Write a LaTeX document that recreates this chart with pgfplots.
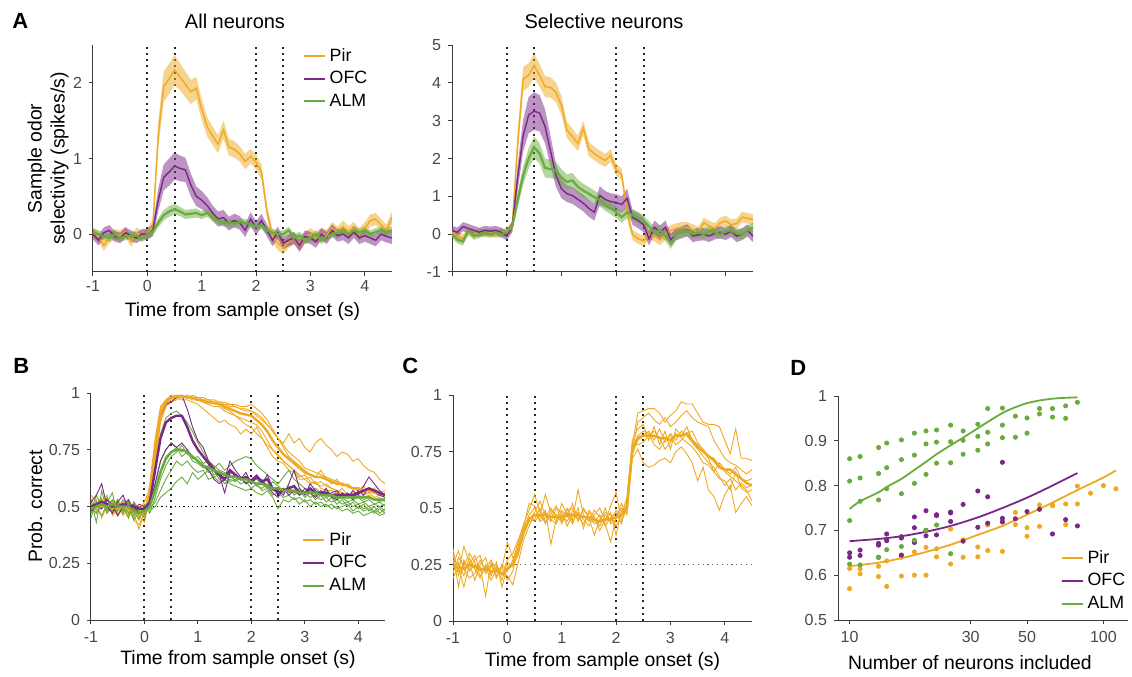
\documentclass[border=0pt]{standalone}
\usepackage{pgfplots}
\pgfplotsset{compat=1.18}
\usepackage{pgfplotstable}
\usepackage{fontspec}
\setmainfont{Liberation Sans}

\definecolor{pir}{HTML}{EEA922}
\definecolor{ofc}{HTML}{7A2888}
\definecolor{alm}{HTML}{6AAB3F}
\definecolor{axgray}{HTML}{3C3C3C}
\definecolor{tickgray}{HTML}{484848}

% A, all neurons: t, mean and sem for Pir (P), OFC (O), ALM (A)
\pgfplotstableread{
t P Pe O Oe A Ae
-1.0 0.02 0.07 0.00 0.07 0.02 0.05
-0.9 -0.03 0.07 -0.08 0.07 0.00 0.05
-0.8 -0.15 0.07 0.02 0.07 -0.03 0.05
-0.7 -0.05 0.07 0.05 0.07 -0.05 0.05
-0.6 0.00 0.07 -0.03 0.07 0.00 0.05
-0.5 -0.02 0.07 -0.05 0.07 -0.05 0.05
-0.4 0.03 0.07 0.02 0.07 -0.03 0.05
-0.3 -0.10 0.07 -0.02 0.07 -0.02 0.05
-0.2 0.02 0.07 -0.05 0.07 -0.02 0.05
-0.1 -0.03 0.07 0.00 0.07 -0.05 0.05
0.0 0.00 0.07 0.00 0.07 0.00 0.05
0.1 0.10 0.10 0.05 0.08 0.03 0.05
0.2 1.30 0.18 0.45 0.15 0.15 0.06
0.3 1.95 0.20 0.75 0.17 0.25 0.07
0.4 2.05 0.20 0.82 0.18 0.30 0.07
0.5 2.17 0.20 0.90 0.18 0.33 0.07
0.6 2.08 0.18 0.87 0.17 0.30 0.06
0.7 1.98 0.17 0.85 0.16 0.26 0.06
0.8 1.88 0.16 0.65 0.15 0.27 0.06
0.9 1.93 0.15 0.50 0.13 0.28 0.06
1.0 1.65 0.14 0.45 0.12 0.25 0.05
1.1 1.42 0.13 0.38 0.11 0.28 0.05
1.2 1.30 0.12 0.28 0.10 0.22 0.05
1.3 1.19 0.12 0.20 0.10 0.18 0.05
1.4 1.38 0.12 0.22 0.10 0.15 0.05
1.5 1.15 0.11 0.14 0.09 0.15 0.05
1.6 1.12 0.11 0.18 0.09 0.14 0.05
1.7 1.06 0.10 0.15 0.09 0.16 0.05
1.8 0.96 0.10 0.05 0.09 0.15 0.05
1.9 1.03 0.10 0.20 0.09 0.13 0.05
2.0 0.95 0.10 0.08 0.09 0.10 0.05
2.1 0.82 0.10 0.18 0.09 0.12 0.05
2.2 0.30 0.09 0.05 0.08 0.05 0.05
2.3 -0.02 0.09 -0.08 0.08 0.02 0.05
2.4 -0.12 0.09 0.02 0.08 0.00 0.05
2.5 -0.18 0.09 -0.12 0.08 0.00 0.05
2.6 -0.10 0.08 -0.08 0.08 0.05 0.05
2.7 -0.05 0.08 -0.05 0.08 -0.05 0.05
2.8 -0.15 0.08 -0.15 0.08 -0.02 0.05
2.9 -0.05 0.08 -0.03 0.08 -0.08 0.05
3.0 0.00 0.08 -0.05 0.08 -0.05 0.05
3.1 -0.05 0.08 -0.10 0.08 0.00 0.05
3.2 0.00 0.08 0.00 0.08 -0.08 0.05
3.3 -0.02 0.08 -0.05 0.08 -0.03 0.05
3.4 0.08 0.08 0.05 0.08 0.00 0.05
3.5 0.02 0.08 -0.02 0.08 0.02 0.05
3.6 0.10 0.08 0.00 0.08 0.05 0.05
3.7 0.03 0.08 -0.05 0.08 0.00 0.05
3.8 0.08 0.08 0.03 0.08 0.05 0.05
3.9 0.00 0.08 -0.05 0.08 0.02 0.05
4.0 0.08 0.08 -0.02 0.08 0.05 0.05
4.1 0.18 0.08 -0.05 0.08 0.00 0.05
4.2 0.20 0.08 -0.08 0.08 0.03 0.05
4.3 0.12 0.08 0.00 0.08 0.05 0.05
4.4 0.05 0.08 -0.03 0.08 0.03 0.05
4.5 0.22 0.08 -0.05 0.08 0.05 0.05
}\Aall

% A, selective neurons
\pgfplotstableread{
t P Pe O Oe A Ae
-1.0 0.05 0.10 0.10 0.12 0.00 0.10
-0.9 -0.05 0.10 0.05 0.12 -0.15 0.10
-0.8 -0.10 0.10 0.20 0.12 -0.20 0.10
-0.7 0.05 0.10 0.15 0.12 0.10 0.10
-0.6 0.00 0.10 0.10 0.12 -0.05 0.10
-0.5 0.05 0.10 0.05 0.12 0.00 0.10
-0.4 0.02 0.10 0.10 0.12 0.05 0.10
-0.3 0.05 0.10 0.08 0.12 0.00 0.10
-0.2 0.00 0.10 0.10 0.12 0.05 0.10
-0.1 0.05 0.10 0.05 0.12 0.00 0.10
0.0 0.05 0.10 -0.05 0.12 0.05 0.10
0.1 0.20 0.15 0.20 0.15 0.20 0.12
0.2 2.40 0.30 1.50 0.35 0.90 0.20
0.3 4.10 0.32 2.60 0.42 1.55 0.25
0.4 4.20 0.32 3.15 0.48 2.00 0.27
0.5 4.45 0.32 3.25 0.50 2.30 0.28
0.6 4.20 0.30 3.20 0.48 2.13 0.27
0.7 3.90 0.28 2.85 0.45 1.75 0.25
0.8 3.88 0.27 2.20 0.40 1.72 0.24
0.9 3.75 0.26 1.55 0.30 1.68 0.23
1.0 3.40 0.25 1.20 0.25 1.50 0.22
1.1 2.75 0.22 1.07 0.22 1.38 0.20
1.2 2.58 0.21 1.02 0.22 1.42 0.20
1.3 2.40 0.20 0.92 0.22 1.25 0.19
1.4 2.80 0.20 0.82 0.22 1.15 0.18
1.5 2.25 0.19 0.68 0.22 1.07 0.18
1.6 2.13 0.18 0.58 0.22 0.98 0.17
1.7 2.03 0.18 1.02 0.25 0.90 0.17
1.8 1.95 0.17 0.92 0.22 0.78 0.16
1.9 2.08 0.17 0.86 0.22 0.68 0.16
2.0 1.70 0.16 0.84 0.22 0.58 0.15
2.1 1.58 0.15 0.78 0.22 0.45 0.15
2.2 0.55 0.15 0.95 0.25 0.58 0.15
2.3 -0.02 0.14 0.44 0.20 0.50 0.15
2.4 -0.12 0.14 0.36 0.20 0.44 0.15
2.5 -0.18 0.14 0.25 0.20 0.36 0.14
2.6 0.00 0.14 -0.12 0.18 0.20 0.14
2.7 -0.05 0.14 0.18 0.18 0.05 0.14
2.8 -0.15 0.14 0.05 0.18 0.10 0.14
2.9 0.00 0.14 0.18 0.18 -0.05 0.14
3.0 0.10 0.14 -0.15 0.16 -0.25 0.14
3.1 0.15 0.14 0.00 0.16 0.00 0.13
3.2 0.18 0.14 0.05 0.16 0.05 0.13
3.3 0.18 0.14 0.10 0.16 0.08 0.13
3.4 0.12 0.14 -0.05 0.16 0.00 0.13
3.5 0.05 0.14 -0.02 0.16 0.05 0.13
3.6 0.30 0.14 0.00 0.16 0.00 0.13
3.7 0.22 0.14 -0.05 0.16 0.08 0.13
3.8 0.15 0.14 0.02 0.16 0.05 0.13
3.9 0.30 0.14 0.05 0.16 0.00 0.13
4.0 0.35 0.14 0.00 0.16 0.08 0.13
4.1 0.25 0.14 0.08 0.16 0.10 0.13
4.2 0.28 0.14 -0.05 0.16 0.02 0.13
4.3 0.45 0.14 0.00 0.16 0.00 0.13
4.4 0.42 0.14 0.10 0.16 0.10 0.13
4.5 0.38 0.14 -0.05 0.16 0.18 0.13
}\Asel

% B, Pir: single runs a-f and mean m
\pgfplotstableread{
t a b c d e f m
-1.0 0.55 0.49 0.52 0.47 0.53 0.50 0.51
-0.9 0.52 0.51 0.48 0.53 0.50 0.47 0.50
-0.8 0.49 0.54 0.50 0.45 0.52 0.51 0.50
-0.7 0.51 0.47 0.53 0.50 0.48 0.55 0.51
-0.6 0.47 0.52 0.49 0.53 0.51 0.46 0.50
-0.5 0.50 0.48 0.46 0.51 0.53 0.49 0.49
-0.4 0.46 0.51 0.52 0.47 0.49 0.52 0.50
-0.3 0.49 0.45 0.50 0.52 0.46 0.48 0.49
-0.2 0.44 0.50 0.47 0.49 0.52 0.45 0.48
-0.1 0.42 0.46 0.40 0.48 0.47 0.50 0.46
0.0 0.47 0.43 0.48 0.52 0.45 0.49 0.48
0.1 0.60 0.55 0.52 0.58 0.54 0.51 0.55
0.2 0.80 0.74 0.70 0.78 0.72 0.68 0.74
0.3 0.94 0.90 0.88 0.93 0.91 0.87 0.91
0.4 0.97 0.96 0.95 0.97 0.96 0.94 0.96
0.5 0.98 0.98 0.97 0.99 0.98 0.96 0.98
0.6 0.99 0.99 0.98 0.99 0.98 0.97 0.985
0.7 0.99 0.98 0.99 0.99 0.97 0.98 0.985
0.8 0.98 0.99 0.98 0.98 0.97 0.98 0.98
0.9 0.98 0.98 0.97 0.99 0.96 0.98 0.98
1.0 0.97 0.98 0.97 0.98 0.95 0.97 0.97
1.1 0.96 0.98 0.96 0.97 0.93 0.97 0.965
1.2 0.95 0.97 0.95 0.97 0.91 0.96 0.96
1.3 0.96 0.97 0.94 0.96 0.89 0.96 0.955
1.4 0.95 0.96 0.94 0.96 0.87 0.95 0.95
1.5 0.93 0.96 0.92 0.95 0.88 0.95 0.94
1.6 0.92 0.95 0.91 0.95 0.86 0.94 0.93
1.7 0.90 0.95 0.90 0.94 0.85 0.94 0.92
1.8 0.88 0.94 0.89 0.93 0.82 0.93 0.91
1.9 0.86 0.94 0.88 0.93 0.84 0.92 0.905
2.0 0.85 0.95 0.87 0.92 0.82 0.92 0.90
2.1 0.82 0.93 0.86 0.90 0.85 0.91 0.88
2.2 0.80 0.91 0.83 0.88 0.80 0.89 0.86
2.3 0.76 0.88 0.79 0.86 0.77 0.86 0.83
2.4 0.72 0.84 0.75 0.83 0.75 0.83 0.79
2.5 0.70 0.80 0.72 0.80 0.73 0.80 0.76
2.6 0.69 0.76 0.70 0.78 0.70 0.77 0.73
2.7 0.66 0.72 0.68 0.82 0.68 0.74 0.71
2.8 0.65 0.70 0.66 0.78 0.66 0.72 0.69
2.9 0.62 0.68 0.64 0.80 0.63 0.70 0.67
3.0 0.62 0.66 0.62 0.76 0.64 0.67 0.65
3.1 0.60 0.64 0.63 0.74 0.61 0.66 0.64
3.2 0.61 0.63 0.60 0.78 0.60 0.65 0.63
3.3 0.58 0.66 0.61 0.80 0.59 0.64 0.63
3.4 0.57 0.62 0.59 0.77 0.60 0.63 0.62
3.5 0.57 0.60 0.58 0.75 0.58 0.62 0.61
3.6 0.56 0.62 0.57 0.72 0.57 0.61 0.60
3.7 0.58 0.59 0.56 0.74 0.56 0.60 0.60
3.8 0.55 0.60 0.55 0.73 0.55 0.59 0.59
3.9 0.56 0.58 0.56 0.70 0.54 0.58 0.58
4.0 0.54 0.57 0.55 0.71 0.55 0.57 0.58
4.1 0.55 0.59 0.54 0.68 0.53 0.56 0.57
4.2 0.56 0.56 0.55 0.66 0.54 0.57 0.57
4.3 0.54 0.58 0.53 0.65 0.53 0.56 0.56
4.4 0.55 0.56 0.54 0.62 0.52 0.55 0.56
4.5 0.54 0.57 0.52 0.60 0.53 0.56 0.55
}\pirB

% B, OFC
\pgfplotstableread{
t a b m
-1.0 0.52 0.48 0.50
-0.9 0.55 0.50 0.51
-0.8 0.60 0.49 0.52
-0.7 0.50 0.53 0.51
-0.6 0.47 0.51 0.50
-0.5 0.52 0.46 0.50
-0.4 0.55 0.50 0.51
-0.3 0.49 0.53 0.50
-0.2 0.51 0.48 0.50
-0.1 0.47 0.51 0.49
0.0 0.48 0.50 0.49
0.1 0.55 0.52 0.52
0.2 0.75 0.60 0.66
0.3 0.90 0.70 0.80
0.4 0.95 0.75 0.87
0.5 0.96 0.78 0.89
0.6 0.98 0.76 0.90
0.7 0.99 0.78 0.90
0.8 0.93 0.75 0.85
0.9 0.85 0.72 0.79
1.0 0.79 0.70 0.75
1.1 0.76 0.68 0.72
1.2 0.70 0.66 0.69
1.3 0.67 0.62 0.66
1.4 0.64 0.60 0.64
1.5 0.56 0.62 0.62
1.6 0.65 0.70 0.66
1.7 0.64 0.66 0.64
1.8 0.62 0.63 0.62
1.9 0.65 0.60 0.63
2.0 0.60 0.62 0.61
2.1 0.63 0.64 0.63
2.2 0.60 0.61 0.61
2.3 0.64 0.59 0.62
2.4 0.58 0.56 0.58
2.5 0.57 0.54 0.56
2.6 0.55 0.58 0.57
2.7 0.60 0.55 0.58
2.8 0.66 0.57 0.59
2.9 0.58 0.55 0.56
3.0 0.55 0.58 0.56
3.1 0.60 0.56 0.58
3.2 0.57 0.54 0.56
3.3 0.55 0.57 0.56
3.4 0.58 0.55 0.56
3.5 0.54 0.56 0.55
3.6 0.53 0.57 0.55
3.7 0.56 0.54 0.55
3.8 0.54 0.56 0.55
3.9 0.57 0.53 0.55
4.0 0.55 0.57 0.56
4.1 0.59 0.55 0.57
4.2 0.63 0.58 0.58
4.3 0.60 0.56 0.57
4.4 0.57 0.55 0.56
4.5 0.55 0.54 0.55
}\ofcB

% B, ALM
\pgfplotstableread{
t a b c d e f m
-1.0 0.50 0.45 0.53 0.48 0.51 0.47 0.49
-0.9 0.47 0.52 0.43 0.55 0.49 0.51 0.50
-0.8 0.52 0.49 0.57 0.50 0.46 0.53 0.51
-0.7 0.49 0.54 0.48 0.52 0.51 0.47 0.50
-0.6 0.53 0.47 0.51 0.56 0.48 0.50 0.51
-0.5 0.48 0.51 0.49 0.46 0.53 0.52 0.50
-0.4 0.51 0.48 0.53 0.50 0.47 0.49 0.50
-0.3 0.47 0.52 0.50 0.45 0.51 0.53 0.50
-0.2 0.50 0.46 0.48 0.52 0.44 0.49 0.48
-0.1 0.46 0.50 0.44 0.49 0.48 0.45 0.47
0.0 0.49 0.47 0.50 0.45 0.48 0.51 0.48
0.1 0.53 0.50 0.47 0.52 0.49 0.48 0.50
0.2 0.68 0.58 0.54 0.60 0.52 0.50 0.57
0.3 0.82 0.66 0.62 0.70 0.57 0.54 0.65
0.4 0.89 0.72 0.68 0.75 0.62 0.56 0.71
0.5 0.91 0.74 0.72 0.78 0.66 0.58 0.74
0.6 0.92 0.76 0.74 0.76 0.70 0.61 0.75
0.7 0.90 0.72 0.77 0.74 0.68 0.63 0.75
0.8 0.87 0.74 0.73 0.75 0.70 0.60 0.74
0.9 0.83 0.70 0.72 0.71 0.67 0.65 0.72
1.0 0.78 0.69 0.70 0.72 0.65 0.62 0.70
1.1 0.74 0.67 0.68 0.69 0.66 0.64 0.68
1.2 0.70 0.68 0.65 0.70 0.62 0.66 0.67
1.3 0.68 0.64 0.66 0.67 0.63 0.63 0.66
1.4 0.66 0.65 0.62 0.69 0.61 0.64 0.65
1.5 0.65 0.62 0.64 0.66 0.62 0.60 0.64
1.6 0.63 0.64 0.61 0.68 0.60 0.62 0.63
1.7 0.64 0.61 0.62 0.70 0.59 0.61 0.63
1.8 0.62 0.63 0.60 0.71 0.58 0.63 0.62
1.9 0.63 0.60 0.61 0.72 0.57 0.60 0.62
2.0 0.61 0.62 0.58 0.71 0.58 0.61 0.61
2.1 0.60 0.59 0.60 0.68 0.56 0.62 0.60
2.2 0.62 0.58 0.57 0.66 0.55 0.60 0.60
2.3 0.59 0.60 0.58 0.64 0.57 0.58 0.59
2.4 0.58 0.57 0.55 0.62 0.54 0.61 0.58
2.5 0.57 0.58 0.56 0.60 0.49 0.59 0.58
2.6 0.58 0.56 0.54 0.63 0.53 0.57 0.57
2.7 0.56 0.59 0.55 0.66 0.52 0.58 0.57
2.8 0.57 0.55 0.53 0.62 0.54 0.56 0.57
2.9 0.55 0.57 0.54 0.60 0.51 0.58 0.56
3.0 0.56 0.54 0.52 0.58 0.53 0.56 0.56
3.1 0.54 0.56 0.53 0.57 0.50 0.57 0.56
3.2 0.55 0.53 0.51 0.58 0.52 0.55 0.56
3.3 0.53 0.55 0.52 0.56 0.50 0.56 0.55
3.4 0.54 0.52 0.50 0.57 0.51 0.54 0.55
3.5 0.52 0.54 0.51 0.55 0.49 0.55 0.55
3.6 0.53 0.51 0.49 0.56 0.50 0.53 0.54
3.7 0.51 0.53 0.50 0.54 0.48 0.54 0.54
3.8 0.52 0.50 0.51 0.55 0.49 0.52 0.54
3.9 0.50 0.52 0.48 0.53 0.47 0.53 0.54
4.0 0.51 0.49 0.50 0.54 0.48 0.51 0.54
4.1 0.49 0.51 0.48 0.52 0.46 0.52 0.54
4.2 0.50 0.48 0.49 0.53 0.47 0.50 0.54
4.3 0.48 0.50 0.47 0.51 0.48 0.51 0.53
4.4 0.50 0.47 0.49 0.52 0.46 0.50 0.53
4.5 0.48 0.49 0.47 0.50 0.47 0.51 0.53
}\almB

% C, Pir four-odor decoding
\pgfplotstableread{
t a b c d e f g m
-1.0 0.22 0.30 0.19 0.25 0.27 0.21 0.32 0.24
-0.9 0.26 0.15 0.24 0.31 0.22 0.28 0.20 0.24
-0.8 0.20 0.27 0.15 0.23 0.33 0.24 0.26 0.23
-0.7 0.28 0.22 0.25 0.19 0.26 0.30 0.23 0.25
-0.6 0.23 0.25 0.29 0.21 0.18 0.26 0.27 0.24
-0.5 0.19 0.24 0.22 0.27 0.25 0.20 0.29 0.23
-0.4 0.25 0.11 0.24 0.22 0.28 0.23 0.21 0.23
-0.3 0.21 0.26 0.18 0.25 0.20 0.27 0.24 0.22
-0.2 0.24 0.20 0.23 0.19 0.26 0.22 0.25 0.22
-0.1 0.18 0.23 0.21 0.25 0.15 0.24 0.20 0.21
0.0 0.26 0.35 0.20 0.22 0.24 0.18 0.27 0.23
0.1 0.24 0.28 0.16 0.27 0.25 0.22 0.30 0.25
0.2 0.33 0.30 0.26 0.35 0.29 0.32 0.36 0.32
0.3 0.41 0.38 0.36 0.43 0.40 0.39 0.42 0.40
0.4 0.47 0.44 0.42 0.49 0.45 0.46 0.52 0.45
0.5 0.50 0.45 0.47 0.56 0.48 0.44 0.51 0.47
0.6 0.46 0.50 0.45 0.48 0.53 0.47 0.44 0.47
0.7 0.49 0.44 0.48 0.43 0.47 0.56 0.46 0.47
0.8 0.34 0.47 0.45 0.49 0.44 0.48 0.50 0.46
0.9 0.45 0.51 0.43 0.47 0.50 0.44 0.46 0.46
1.0 0.47 0.43 0.49 0.45 0.48 0.52 0.44 0.46
1.1 0.44 0.48 0.46 0.50 0.42 0.47 0.49 0.47
1.2 0.49 0.45 0.52 0.44 0.47 0.43 0.50 0.47
1.3 0.46 0.58 0.44 0.48 0.45 0.50 0.47 0.47
1.4 0.43 0.47 0.50 0.45 0.49 0.41 0.46 0.46
1.5 0.48 0.44 0.46 0.42 0.46 0.49 0.45 0.46
1.6 0.45 0.49 0.38 0.47 0.43 0.46 0.44 0.45
1.7 0.42 0.46 0.45 0.50 0.44 0.40 0.47 0.44
1.8 0.47 0.43 0.48 0.44 0.50 0.45 0.42 0.45
1.9 0.44 0.35 0.47 0.51 0.43 0.48 0.46 0.45
2.0 0.49 0.46 0.42 0.57 0.45 0.38 0.48 0.46
2.1 0.46 0.50 0.47 0.44 0.52 0.49 0.43 0.47
2.2 0.52 0.48 0.55 0.50 0.47 0.51 0.53 0.50
2.3 0.78 0.74 0.80 0.72 0.76 0.79 0.75 0.76
2.4 0.92 0.80 0.85 0.76 0.82 0.78 0.88 0.81
2.5 0.93 0.82 0.87 0.70 0.84 0.79 0.90 0.82
2.6 0.94 0.84 0.80 0.68 0.83 0.82 0.92 0.82
2.7 0.94 0.80 0.86 0.69 0.78 0.84 0.89 0.82
2.8 0.92 0.85 0.78 0.71 0.76 0.81 0.87 0.81
2.9 0.88 0.79 0.84 0.72 0.80 0.76 0.90 0.81
3.0 0.91 0.83 0.76 0.70 0.82 0.79 0.86 0.80
3.1 0.93 0.80 0.85 0.75 0.78 0.83 0.88 0.82
3.2 0.97 0.84 0.82 0.77 0.80 0.81 0.91 0.82
3.3 0.96 0.82 0.86 0.74 0.83 0.79 0.93 0.83
3.4 0.96 0.79 0.80 0.70 0.84 0.77 0.90 0.80
3.5 0.92 0.76 0.78 0.62 0.79 0.74 0.88 0.77
3.6 0.88 0.73 0.75 0.68 0.76 0.70 0.87 0.75
3.7 0.87 0.70 0.72 0.58 0.73 0.69 0.86 0.73
3.8 0.87 0.68 0.66 0.55 0.72 0.66 0.80 0.71
3.9 0.86 0.64 0.70 0.49 0.69 0.63 0.76 0.68
4.0 0.80 0.60 0.67 0.56 0.66 0.62 0.72 0.67
4.1 0.74 0.63 0.65 0.60 0.64 0.58 0.70 0.67
4.2 0.85 0.58 0.68 0.48 0.62 0.66 0.69 0.65
4.3 0.72 0.61 0.63 0.52 0.60 0.59 0.67 0.63
4.4 0.72 0.59 0.62 0.55 0.58 0.57 0.65 0.61
4.5 0.71 0.60 0.63 0.51 0.53 0.58 0.67 0.60
}\pirC

% D, decoding accuracy against population size
\pgfplotstableread{
n v
10 0.860
10 0.810
10 0.722
10 0.625
11 0.865
11 0.817
11 0.765
11 0.623
13 0.885
13 0.827
13 0.768
13 0.640
14 0.895
14 0.840
14 0.793
14 0.657
16 0.902
16 0.858
16 0.782
16 0.664
18 0.917
18 0.868
18 0.805
18 0.678
20 0.922
20 0.893
20 0.825
20 0.700
22 0.924
22 0.897
22 0.850
22 0.712
25 0.935
25 0.898
25 0.851
25 0.648
28 0.922
28 0.901
28 0.870
32 0.937
32 0.910
32 0.879
35 0.972
35 0.919
35 0.893
40 0.973
40 0.935
40 0.907
45 0.955
45 0.908
50 0.951
50 0.917
56 0.972
56 0.960
63 0.972
63 0.953
71 0.978
71 0.950
79 0.986
}\almD

\pgfplotstableread{
n v
10 0.650
10 0.640
11 0.656
11 0.644
13 0.671
13 0.667
13 0.640
14 0.692
14 0.680
14 0.677
16 0.686
16 0.683
16 0.645
18 0.730
18 0.706
18 0.673
20 0.744
20 0.700
20 0.688
22 0.735
22 0.733
22 0.690
25 0.741
25 0.739
25 0.720
28 0.758
28 0.676
32 0.788
32 0.707
35 0.775
35 0.716
40 0.852
40 0.727
40 0.719
45 0.726
50 0.742
56 0.747
63 0.692
71 0.724
79 0.710
}\ofcD

\pgfplotstableread{
n v
10 0.615
10 0.570
11 0.614
11 0.603
13 0.620
13 0.597
14 0.632
14 0.575
16 0.640
16 0.598
18 0.652
18 0.600
20 0.662
20 0.600
22 0.659
22 0.641
25 0.703
25 0.625
28 0.679
28 0.640
32 0.663
32 0.641
35 0.712
35 0.655
40 0.719
40 0.653
45 0.740
45 0.713
50 0.706
50 0.687
56 0.757
56 0.709
63 0.757
63 0.755
71 0.759
71 0.713
79 0.799
79 0.759
89 0.783
100 0.800
112 0.793
}\pirD

\pgfplotsset{
  panel/.style={
    scale only axis, anchor=south west,
    axis x line*=bottom, axis y line*=left,
    axis line style={-, line width=0.5pt, color=axgray},
    tick align=outside, major tick length=2pt,
    tick style={line width=0.5pt, color=axgray},
    tick label style={font=\fontsize{8}{9}\selectfont, color=tickgray},
    label style={font=\fontsize{9.7}{11.5}\selectfont},
    /pgf/number format/assume math mode=true,
    legend style={draw=none, fill=none, inner sep=0pt, row sep=-0.45pt,
      font=\fontsize{8.9}{10}\selectfont, anchor=north west},
    legend cell align=left,
    legend image code/.code={\draw[##1] (0pt,0pt) -- (10.5pt,0pt);},
  },
  vd/.style={black!85, line width=1pt, dash pattern=on 1pt off 2.1pt},
}

% dotted event markers at sample on/off and test on/off
\newcommand{\vdot}[2]{%
  \pgfplotsinvokeforeach{0,0.5,2,2.5}{\addplot[vd, forget plot] coordinates {(##1,#1) (##1,#2)};}}

% shaded mean +- sem band: stacked lower edge, then the band width, then back to zero
\newcommand{\band}[4]{%
  \addplot[draw=none, stack plots=y, forget plot] table[x=t, y expr=\thisrow{#2}-\thisrow{#3}] {#1};
  \addplot[fill=#4, fill opacity=0.5, draw=none, stack plots=y, forget plot] table[x=t, y expr=2*\thisrow{#3}] {#1} \closedcycle;
  \addplot[draw=none, stack plots=y, forget plot] table[x=t, y expr=-\thisrow{#2}-\thisrow{#3}] {#1};}

% the three-region legend
\newcommand{\regionlegend}{%
  \addlegendimage{pir, line width=1pt}\addlegendentry{Pir}
  \addlegendimage{ofc, line width=1pt}\addlegendentry{OFC}
  \addlegendimage{alm, line width=1pt}\addlegendentry{ALM}}

\begin{document}
\begin{tikzpicture}
\path[use as bounding box] (0,0) rectangle (566pt,338pt);

\node[font=\bfseries\fontsize{11}{12}\selectfont, anchor=north west, inner sep=0pt] at (6pt,331.5pt) {A};
\node[font=\bfseries\fontsize{11}{12}\selectfont, anchor=north west, inner sep=0pt] at (6.5pt,159pt) {B};
\node[font=\bfseries\fontsize{11}{12}\selectfont, anchor=north west, inner sep=0pt] at (201pt,159pt) {C};
\node[font=\bfseries\fontsize{11}{12}\selectfont, anchor=north west, inner sep=0pt] at (395pt,158pt) {D};
\node[font=\fontsize{10}{11}\selectfont] at (117.5pt,327.5pt) {All neurons};
\node[font=\fontsize{10}{11}\selectfont] at (302pt,327.5pt) {Selective neurons};

% A, all neurons
\begin{axis}[panel, at={(46.5pt,202pt)}, width=149.5pt, height=113.5pt,
  xmin=-1, xmax=4.5, ymin=-0.5, ymax=2.5, xtick={-1,0,1,2,3,4}, ytick={0,1,2},
  xticklabel style={yshift=1.5pt},
  xlabel={Time from sample onset (s)},
  ylabel={Sample odor\\selectivity (spikes/s)},
  ylabel style={align=center, at={(axis description cs:-0.15,0.5)}, anchor=center},
  xlabel style={at={(axis description cs:0.5,-0.176)}, anchor=center},
  legend style={at={(0.70,1.005)}}]
\regionlegend
\vdot{-0.5}{2.5}
\band{\Aall}{P}{Pe}{pir}
\band{\Aall}{O}{Oe}{ofc}
\band{\Aall}{A}{Ae}{alm}
\addplot[pir, line width=0.7pt, forget plot] table[x=t, y=P] {\Aall};
\addplot[ofc, line width=0.7pt, forget plot] table[x=t, y=O] {\Aall};
\addplot[alm, line width=1.1pt, forget plot] table[x=t, y=A] {\Aall};
\end{axis}

% A, selective neurons
\begin{axis}[panel, at={(226pt,202pt)}, width=150.5pt, height=113.5pt,
  xmin=-1, xmax=4.5, ymin=-1, ymax=5, xtick={-1,0,1,2,3,4}, xticklabels={},
  ytick={-1,0,1,2,3,4,5}]
\vdot{-1}{5}
\band{\Asel}{P}{Pe}{pir}
\band{\Asel}{O}{Oe}{ofc}
\band{\Asel}{A}{Ae}{alm}
\addplot[pir, line width=0.7pt] table[x=t, y=P] {\Asel};
\addplot[ofc, line width=0.7pt] table[x=t, y=O] {\Asel};
\addplot[alm, line width=1.1pt] table[x=t, y=A] {\Asel};
\end{axis}

% B
\begin{axis}[panel, at={(45.5pt,28pt)}, width=147pt, height=113.5pt,
  xmin=-1, xmax=4.5, ymin=0, ymax=1, xtick={-1,0,1,2,3,4},
  ytick={0,0.25,0.5,0.75,1},
  xlabel={Time from sample onset (s)}, ylabel={Prob. correct},
  ylabel style={at={(axis description cs:-0.19,0.5)}, anchor=center},
  xlabel style={at={(axis description cs:0.5,-0.176)}, anchor=center},
  legend style={at={(0.718,0.405)}}]
\regionlegend
\vdot{0}{1}
\addplot[black, line width=0.5pt, dash pattern=on 0.6pt off 1.6pt, forget plot] coordinates {(-1,0.5) (4.5,0.5)};
\pgfplotsinvokeforeach{a,b,c,d,e,f}{\addplot[pir, line width=0.45pt, forget plot] table[x=t, y=#1] {\pirB};}
\pgfplotsinvokeforeach{a,b,c,d,e,f}{\addplot[alm, line width=0.45pt, forget plot] table[x=t, y=#1] {\almB};}
\pgfplotsinvokeforeach{a,b}{\addplot[ofc, line width=0.45pt, forget plot] table[x=t, y=#1] {\ofcB};}
\addplot[pir, line width=1.2pt, forget plot] table[x=t, y=m] {\pirB};
\addplot[ofc, line width=1.2pt, forget plot] table[x=t, y=m] {\ofcB};
\addplot[alm, line width=1.2pt, forget plot] table[x=t, y=m] {\almB};
\end{axis}

% C
\begin{axis}[panel, at={(226.5pt,27.5pt)}, width=149.5pt, height=113pt,
  xmin=-1, xmax=4.5, ymin=0, ymax=1, xtick={-1,0,1,2,3,4},
  ytick={0,0.25,0.5,0.75,1},
  xlabel={Time from sample onset (s)},
  xlabel style={at={(axis description cs:0.5,-0.181)}, anchor=center}]
\vdot{0}{1}
\addplot[black!60, line width=0.5pt, dash pattern=on 0.6pt off 1.8pt, forget plot] coordinates {(-1,0.25) (4.5,0.25)};
\pgfplotsinvokeforeach{a,b,c,d,e,f,g}{\addplot[pir, line width=0.45pt, forget plot] table[x=t, y=#1] {\pirC};}
\addplot[pir, line width=1.2pt] table[x=t, y=m] {\pirC};
\end{axis}

% D
\begin{axis}[panel, at={(419pt,28pt)}, width=145pt, height=112pt,
  xmode=log, xmin=9, xmax=125, ymin=0.5, ymax=1,
  xtick={10,30,50,100}, xticklabels={10,30,50,100}, xminorticks=false,
  ytick={0.5,0.6,0.7,0.8,0.9,1},
  xlabel={Number of neurons included},
  xlabel style={at={(axis description cs:0.455,-0.188)}, anchor=center},
  legend style={at={(0.766,0.33)}}]
\regionlegend
\addplot[only marks, mark=*, mark size=1.05pt, pir, forget plot] table[x=n, y=v] {\pirD};
\addplot[only marks, mark=*, mark size=1.05pt, ofc, forget plot] table[x=n, y=v] {\ofcD};
\addplot[only marks, mark=*, mark size=1.05pt, alm, forget plot] table[x=n, y=v] {\almD};
\addplot[pir, line width=0.9pt, smooth, forget plot] coordinates {(10,0.620) (13,0.628) (16,0.638) (20,0.652) (25,0.668) (32,0.690) (40,0.710) (50,0.735) (63,0.762) (79,0.790) (100,0.818) (112,0.834)};
\addplot[ofc, line width=0.9pt, smooth, forget plot] coordinates {(10,0.676) (13,0.681) (16,0.687) (20,0.697) (25,0.710) (32,0.729) (40,0.750) (50,0.773) (63,0.800) (79,0.828)};
\addplot[alm, line width=0.9pt, smooth, forget plot] coordinates {(10,0.748) (11,0.765) (13,0.785) (14,0.797) (16,0.815) (18,0.835) (20,0.853) (22,0.870) (25,0.890) (28,0.907) (32,0.928) (35,0.942) (40,0.962) (45,0.975) (50,0.984) (56,0.990) (63,0.994) (71,0.996) (79,0.997)};
\end{axis}
\end{tikzpicture}
\end{document}
